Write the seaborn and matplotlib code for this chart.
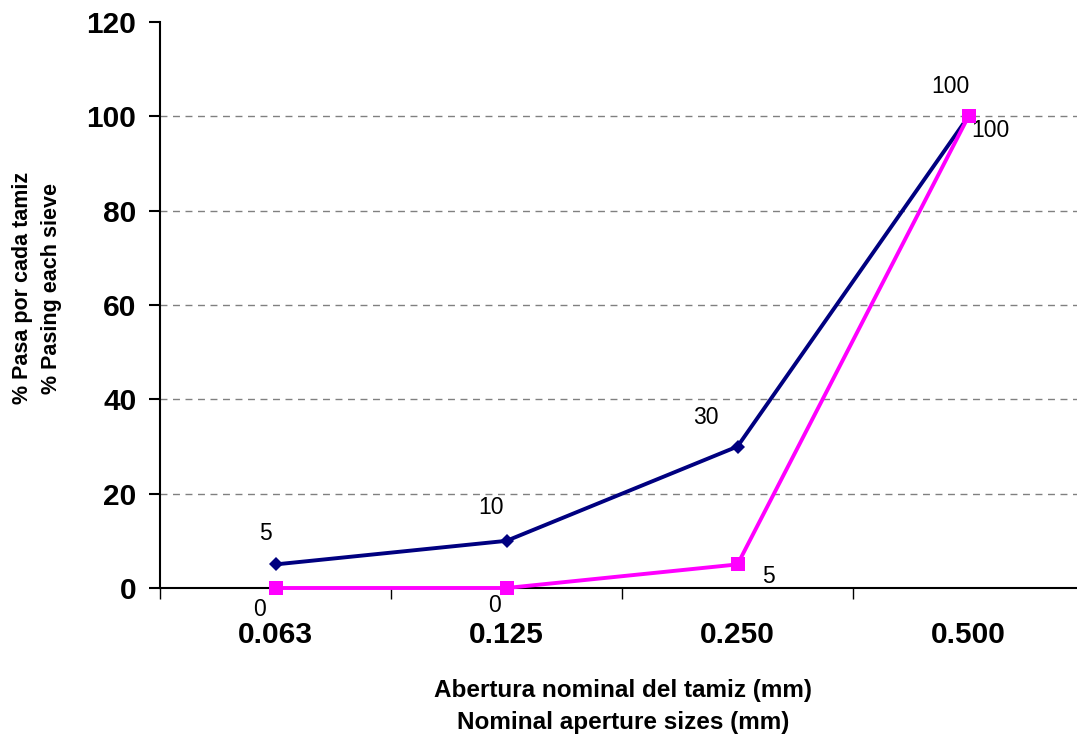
import pandas as pd
import seaborn as sns
import matplotlib
matplotlib.use("Agg")
import matplotlib.pyplot as plt

# Sieve sizes (categorical x) and passing percentages
sizes = ["0.063", "0.125", "0.250", "0.500"]
upper_limit = [5, 10, 30, 100]
lower_limit = [0, 0, 5, 100]

# label offsets in pixels (dx, dy) for each data label
upper_offsets = [(-10, 31), (-16, 33), (-32, 29), (-18, 30)]
lower_offsets = [(-16, -22), (-12, -18), (31, -12), (22, -14)]

sns.set_theme(style="white")
plt.rcParams['font.family'] = ['Liberation Sans', 'DejaVu Sans']
plt.rcParams['text.color'] = 'black'
plt.rcParams['xtick.color'] = 'black'
plt.rcParams['ytick.color'] = 'black'
plt.rcParams['axes.labelcolor'] = 'black'

W, H = 1077, 740
df_up = pd.DataFrame({"size": sizes, "pct": upper_limit})
df_low = pd.DataFrame({"size": sizes, "pct": lower_limit})

fig = plt.figure(figsize=(W / 100, H / 100), dpi=100)
ax = fig.add_axes([160 / W, 1 - 588 / H, 924 / W, (588 - 22) / H])

sns.lineplot(data=df_up, x="size", y="pct", ax=ax, color="#000080", lw=2.8,
             marker="D", markersize=7, markeredgewidth=0, sort=False,
             clip_on=False, zorder=5)
sns.lineplot(data=df_low, x="size", y="pct", ax=ax, color="#FF00FF", lw=2.8,
             marker="s", markersize=10, markeredgewidth=0, sort=False,
             clip_on=False, zorder=6)

for i, (v, off) in enumerate(zip(upper_limit, upper_offsets)):
    ax.annotate(str(v), (i, v), xytext=off, textcoords="offset pixels",
                ha="center", va="center", fontsize=16.5, color="black")
for i, (v, off) in enumerate(zip(lower_limit, lower_offsets)):
    ax.annotate(str(v), (i, v), xytext=off, textcoords="offset pixels",
                ha="center", va="center", fontsize=16.5, color="black")

ax.set_xlim(-0.5, len(sizes) - 0.5)
ax.set_ylim(0, 120)
ax.set_yticks(range(0, 121, 20))
for y in range(20, 101, 20):
    ax.axhline(y, color="#808080", lw=1, ls=(0, (5, 4)), zorder=0)

# x ticks at category boundaries, labels at centres
ax.set_xticks([i - 0.5 for i in range(len(sizes))], minor=False)
ax.set_xticklabels([])
ax.set_xticks(range(len(sizes)), minor=True)
ax.set_xticklabels(sizes, minor=True, fontsize=21.5, fontweight="bold")
ax.tick_params(axis="x", which="major", direction="out", length=8, width=1,
               color="black", bottom=True)
ax.tick_params(axis="x", which="minor", length=0, pad=24)
ax.tick_params(axis="y", direction="out", length=8, width=1.5, color="black",
               left=True, labelsize=21.5, pad=9)
for lab in ax.get_yticklabels():
    lab.set_fontweight("bold")

for s in ["top", "right"]:
    ax.spines[s].set_visible(False)
for s in ["left", "bottom"]:
    ax.spines[s].set_color("black")
    ax.spines[s].set_linewidth(1.5)

ax.set_xlabel("Abertura nominal del tamiz (mm)\nNominal aperture sizes (mm)",
              fontsize=17.5, fontweight="bold", linespacing=1.5, va="center")
ax.xaxis.set_label_coords(623 / W, 1 - 707 / H, transform=fig.transFigure)
ax.set_ylabel("% Pasa por cada tamiz\n% Pasing each sieve",
              fontsize=15.5, fontweight="bold", linespacing=1.5, va="center")
ax.yaxis.set_label_coords(37 / W, 1 - 288 / H, transform=fig.transFigure)

fig.savefig("out.png", dpi=100)
